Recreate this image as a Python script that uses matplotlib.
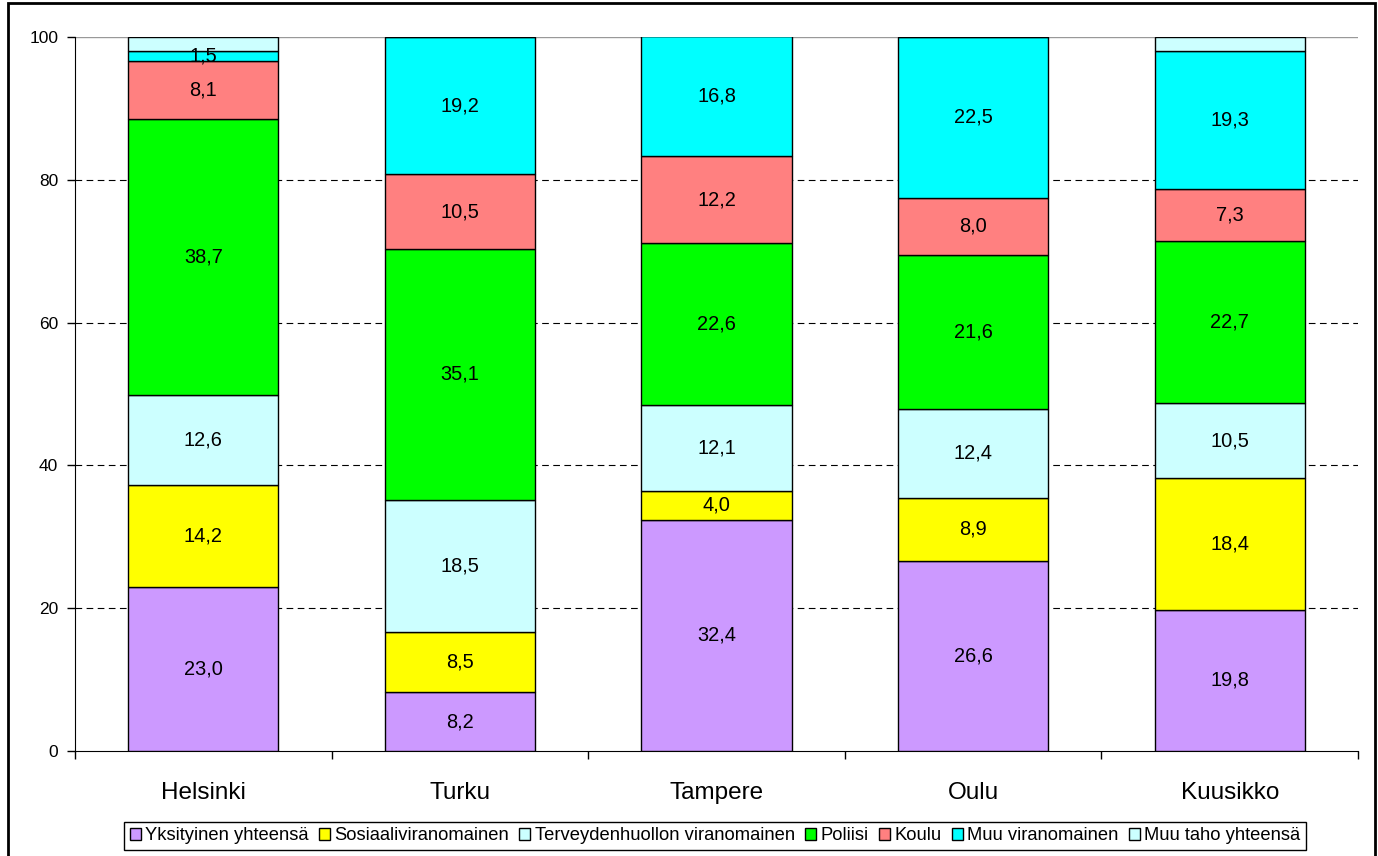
import matplotlib
matplotlib.use("Agg")
import matplotlib.pyplot as plt
from matplotlib.patches import Rectangle

plt.rcParams['font.family'] = ['Liberation Sans', 'DejaVu Sans']

categories = ["Helsinki", "Turku", "Tampere", "Oulu", "Kuusikko"]
series_names = ["Yksityinen yhteensä", "Sosiaaliviranomainen", "Terveydenhuollon viranomainen",
                "Poliisi", "Koulu", "Muu viranomainen", "Muu taho yhteensä"]
yksityinen = [23.0, 8.2, 32.4, 26.6, 19.8]
sosiaali = [14.2, 8.5, 4.0, 8.9, 18.4]
terveys = [12.6, 18.5, 12.1, 12.4, 10.5]
poliisi = [38.7, 35.1, 22.6, 21.6, 22.7]
koulu = [8.1, 10.5, 12.2, 8.0, 7.3]
muu_viran = [1.5, 19.2, 16.8, 22.5, 19.3]
muu_taho = [1.9, 0.0, 0.0, 0.0, 2.0]
series = [yksityinen, sosiaali, terveys, poliisi, koulu, muu_viran, muu_taho]
colors = ["#CC99FF", "#FFFF00", "#CCFFFF", "#00FF00", "#FF8080", "#00FFFF", "#CCFFFF"]
labelled = [True, True, True, True, True, True, False]
yticks = [0, 20, 40, 60, 80, 100]

W, H = 1378, 856
fig = plt.figure(figsize=(W / 100, H / 100), dpi=100)
ax = fig.add_axes([75 / W, (H - 751) / H, 1283 / W, 714 / H])

x = list(range(len(categories)))
bottom = [0.0] * len(categories)
handles = []
for vals, col, name, lab in zip(series, colors, series_names, labelled):
    bars = ax.bar(x, vals, width=0.585, bottom=bottom, color=col, edgecolor="black",
                  linewidth=1.0, label=name, zorder=3)
    handles.append(bars)
    if lab:
        for xi, v, b in zip(x, vals, bottom):
            if v > 0:
                ax.text(xi, b + v / 2, f"{v:.1f}".replace(".", ","), ha="center", va="center",
                        fontsize=14.4, zorder=4)
    bottom = [b + v for b, v in zip(bottom, vals)]

ax.set_xlim(-0.5, len(categories) - 0.5)
ax.set_ylim(0, 100)
ax.set_yticks(yticks)
ax.set_yticklabels([str(t) for t in yticks], fontsize=12.5)
ax.set_xticks(x)
ax.set_xticklabels(categories, fontsize=17.5)
ax.tick_params(axis="x", length=0, pad=22)
ax.tick_params(axis="y", direction="out", length=6, width=1, pad=6, colors="black")
# category boundary ticks
ax.set_xticks([i - 0.5 for i in range(len(categories) + 1)], minor=True)
ax.tick_params(axis="x", which="minor", direction="out", length=6, width=1)

for t in yticks[1:-1]:
    ax.axhline(t, color="black", linestyle=(0, (6, 4)), linewidth=0.8, zorder=1)
ax.axhline(100, color="#999999", linewidth=1.0, zorder=1)

for s in ["top", "right"]:
    ax.spines[s].set_visible(False)
ax.spines["left"].set_color("black")
ax.spines["bottom"].set_color("black")

leg = fig.legend(handles=handles, labels=series_names, loc="center",
                 bbox_to_anchor=(715 / W, (H - 836) / H), ncol=7, fontsize=13.2,
                 frameon=True, fancybox=False, edgecolor="black", framealpha=1,
                 handlelength=0.6, handleheight=0.6, handletextpad=0.25,
                 columnspacing=0.55, borderpad=0.3, borderaxespad=0)
leg.get_frame().set_linewidth(1.0)

# chart area border
fig.patches.append(Rectangle((8 / W, -0.01), (1375 - 8) / W, (H - 3) / H + 0.01,
                             transform=fig.transFigure, fill=False, edgecolor="black",
                             linewidth=2.0, zorder=0))

fig.savefig("out.png", dpi=100, facecolor="white")
